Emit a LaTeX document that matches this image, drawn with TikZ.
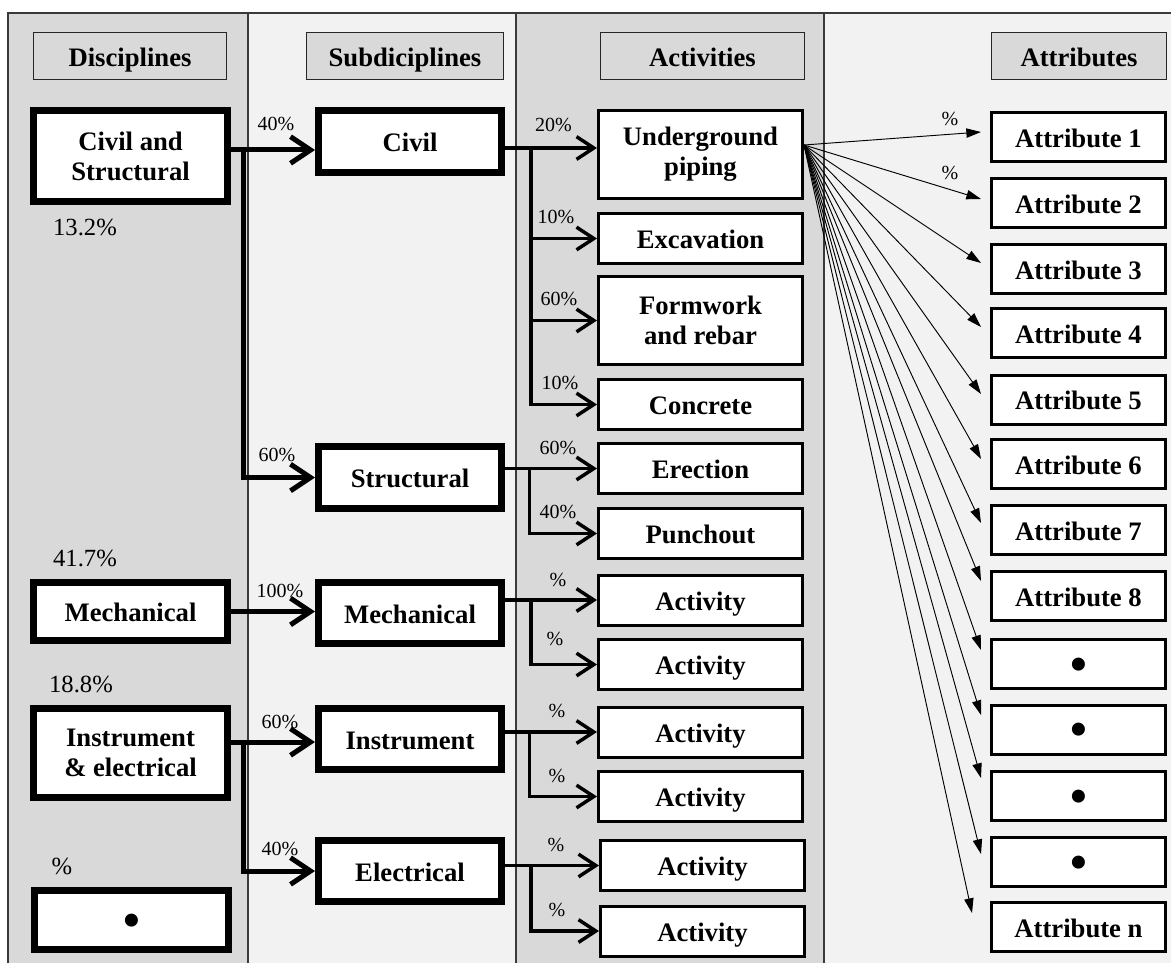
\documentclass[tikz,border=0pt]{standalone}
\usepackage{fontspec}
\setmainfont{Liberation Serif}
\usetikzlibrary{arrows.meta,calc}
\definecolor{dk}{HTML}{D9D9D9}
\definecolor{lt}{HTML}{F2F2F2}
\definecolor{edge}{HTML}{3A3A3A}
\newcommand{\bigdot}{\raisebox{-3.75pt}[\height][\depth]{\fontsize{36}{20}\selectfont •}}
\tikzset{
 big/.style={font=\bfseries\fontsize{20}{22.5}\selectfont, align=center, inner sep=0pt},
 oneline/.style={text height=16pt, text depth=0.5pt},
 hdr/.style={big, oneline, draw=black!85, line width=0.9pt, fill=dk, minimum height=35.25pt},
 disc/.style={big, draw=black, line width=5.25pt, fill=white, minimum width=145.5pt},
 sub/.style={big, oneline, draw=black, line width=5.25pt, fill=white, minimum width=137.25pt, minimum height=46.5pt},
 act/.style={big, draw=black, line width=2.25pt, fill=white, minimum width=153pt, minimum height=37.5pt},
 att/.style={big, draw=black, line width=2.25pt, fill=white, minimum width=130.5pt, minimum height=36.75pt},
 pct/.style={font=\fontsize{15}{18}\selectfont, inner sep=0pt},
 dpct/.style={font=\fontsize{18.5}{22}\selectfont, inner sep=0pt},
 darr/.style={line width=3.75pt, -{Straight Barb[length=15pt,width=20pt]}},
 aarr/.style={line width=2.6pt, -{Straight Barb[length=13pt,width=17pt]}},
 tarr/.style={line width=0.7pt, -{Triangle[length=11pt,width=7pt]}},
 frame/.style={draw=edge, line width=0.9pt}
}
\begin{document}
\begin{tikzpicture}[x=0.75pt,y=-0.75pt]
\useasboundingbox (0,0) rectangle (1171,963);
% columns
\fill[dk] (8,13) rectangle (248,963);
\fill[lt] (248,13) rectangle (516,963);
\fill[dk] (516,13) rectangle (824,963);
\fill[lt] (824,13) rectangle (1171,963);
\draw[frame] (8,963) -- (8,13) -- (1171,13);
\draw[frame] (248,13) -- (248,963);
\draw[frame] (516,13) -- (516,963);
\draw[frame] (824,13) -- (824,963);

% headers
\node[hdr, minimum width=144.75pt] (H1) at (130,56) {Disciplines};
\node[hdr, minimum width=147.75pt] (H2) at (405,56) {Subdiciplines};
\node[hdr, minimum width=153pt] (H3) at (702.5,56) {Activities};
\node[hdr, minimum width=131.25pt] (H4) at (1079,56) {Attributes};

% disciplines
\node[disc, minimum height=68.25pt] (CS) at (130.5,156) {Civil and\\Structural};
\node[disc, oneline, minimum height=43.5pt] (DM) at (130.5,611.5) {Mechanical};
\node[disc, minimum height=66.75pt] (IE) at (130.5,753) {Instrument\\\& electrical};
\node[disc, minimum height=44.25pt] (DB) at (131.5,920) {\bigdot};
\node[dpct] (p1) at (85,227) {13.2\%};
\node[dpct] (p2) at (85,558) {41.7\%};
\node[dpct] (p3) at (81,684) {18.8\%};
\node[dpct] (p4) at (62,866) {\%};

% subdisciplines
\node[sub] (SC) at (410,141.5) {Civil};
\node[sub] (SS) at (410,477.5) {Structural};
\node[sub, minimum height=45.75pt] (SM) at (410,613) {Mechanical};
\node[sub, minimum height=45.75pt] (SI) at (410,739) {Instrument};
\node[sub, minimum height=45.75pt] (SE) at (410,871) {Electrical};

% activities
\node[act, minimum height=66pt] (A1) at (700.5,154.5) {Underground\\piping};
\node[act, oneline] (A2) at (700.5,238.5) {Excavation};
\node[act, minimum height=66pt] (A3) at (700.5,320.5) {Formwork\\and rebar};
\node[act, oneline] (A4) at (700.5,404.5) {Concrete};
\node[act, oneline] (A5) at (700.5,468.5) {Erection};
\node[act, oneline] (A6) at (700.5,533.5) {Punchout};
\node[act, oneline] (A7) at (700.5,600) {Activity};
\node[act, oneline] (A8) at (700.5,664.5) {Activity};
\node[act, oneline] (A9) at (700.5,732) {Activity};
\node[act, oneline] (A10) at (700.5,796.5) {Activity};
\node[act, oneline] (A11) at (702.5,865.5) {Activity};
\node[act, oneline] (A12) at (702.5,931) {Activity};

% attributes
\node[att, oneline] (T1) at (1078.5,137) {Attribute 1};
\node[att, oneline] (T2) at (1078.5,203) {Attribute 2};
\node[att, oneline] (T3) at (1078.5,269) {Attribute 3};
\node[att, oneline] (T4) at (1078.5,333) {Attribute 4};
\node[att, oneline] (T5) at (1078.5,399.5) {Attribute 5};
\node[att, oneline] (T6) at (1078.5,464) {Attribute 6};
\node[att, oneline] (T7) at (1078.5,530) {Attribute 7};
\node[att, oneline] (T8) at (1078.5,596) {Attribute 8};
\node[att] (T9) at (1078.5,664) {\bigdot};
\node[att] (T10) at (1078.5,729.5) {\bigdot};
\node[att] (T11) at (1078.5,796) {\bigdot};
\node[att] (T12) at (1078.5,862) {\bigdot};
\node[att, oneline] (T13) at (1078.5,927) {Attribute n};

% discipline -> subdiscipline
\coordinate (cso) at ($(CS.east)+(0,-6)$);
\draw[darr] (cso) -- (cso -| SC.west);
\draw[darr] ($(cso)+(12.5,0)$) |- (SS.west);
\draw[darr] (DM.east) -- (DM.east -| SM.west);
\coordinate (ieo) at ($(IE.east)+(0,-11)$);
\draw[darr] (ieo) -- (ieo -| SI.west);
\draw[darr] ($(ieo)+(12.5,0)$) |- (SE.west);
\node[pct] (l1) at (276,123.5) {40\%};
\node[pct] (l2) at (277,455) {60\%};
\node[pct] (l3) at (280,591) {100\%};
\node[pct] (l4) at (280,722) {60\%};
\node[pct] (l5) at (280,849) {40\%};

% subdiscipline -> activity
\coordinate (sco) at ($(SC.east)+(0,6.5)$);
\draw[aarr] (sco) -- (sco -| A1.west);
\draw[aarr] ($(sco)+(26,0)$) |- (A2.west);
\draw[aarr] ($(sco)+(26,0)$) |- (A3.west);
\draw[aarr] ($(sco)+(26,0)$) |- (A4.west);
\draw[aarr] (SS.east |- A5.west) -- (A5.west);
\draw[aarr] ($(SS.east |- A5.west)+(24.5,0)$) |- (A6.west);
\draw[aarr] (SM.east |- A7.west) -- (A7.west);
\draw[aarr] ($(SM.east |- A7.west)+(26,0)$) |- (A8.west);
\draw[aarr] (SI.east |- A9.west) -- (A9.west);
\draw[aarr] ($(SI.east |- A9.west)+(24.5,0)$) |- (A10.west);
\draw[aarr] (SE.east |- A11.west) -- (A11.west);
\draw[aarr] ($(SE.east |- A11.west)+(26,0)$) |- (A12.west);
\node[pct] (m1) at (553.5,124.5) {20\%};
\node[pct] (m2) at (556,216.5) {10\%};
\node[pct] (m3) at (559,298.5) {60\%};
\node[pct] (m4) at (560,383) {10\%};
\node[pct] (m5) at (558,448) {60\%};
\node[pct] (m6) at (558,511.5) {40\%};
\node[pct] (m7) at (558,579.5) {\%};
\node[pct] (m8) at (555,638.5) {\%};
\node[pct] (m9) at (557,711) {\%};
\node[pct] (m10) at (557,776) {\%};
\node[pct] (m11) at (556,845) {\%};
\node[pct] (m12) at (557,910) {\%};

% activity -> attributes
\coordinate (fan) at ($(A1.east)+(0,-9.5)$);
\foreach \i/\dx/\dy in {1/-9/-5,2/-9/-4,3/-9/-6,4/-9/-6,5/-9/-5.5,6/-9/-5,7/-9/-7,8/-9/-15,9/-9/-14,10/-9/-14.5,11/-9/-18,12/-9/-8,13/-18/-14}
  \draw[tarr] (fan) -- ($(T\i.west)+(\dx,\dy)$);
\node[pct] (n1) at (950,118.5) {\%};
\node[pct] (n2) at (950,172.5) {\%};
\end{tikzpicture}
\end{document}
